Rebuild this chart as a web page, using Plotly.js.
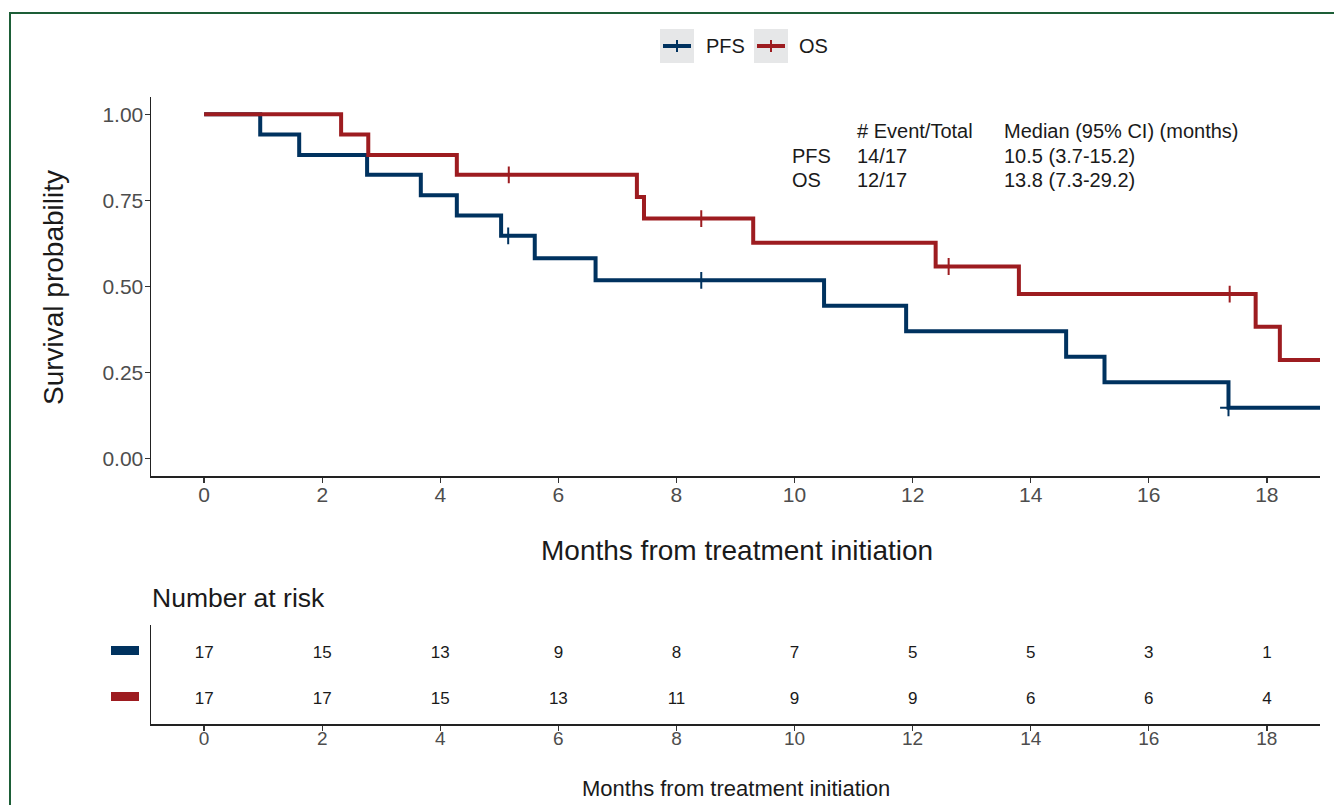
<!DOCTYPE html>
<html>
<head>
<meta charset="utf-8">
<script src="https://cdn.plot.ly/plotly-3.0.1.min.js"></script>
<style>html,body{margin:0;padding:0;background:#fff;}#chart{width:1334px;height:805px;}</style>
</head>
<body>
<div id="chart"></div>
<script>
// ---- data ----
const pfsTimes = [0, 0.95, 1.61, 2.76, 3.67, 4.28, 5.03, 5.60, 6.63, 10.50, 11.89, 14.60, 15.25, 17.35, 19.5];
const pfsSurv  = [1, 0.941, 0.882, 0.824, 0.765, 0.706, 0.647, 0.582, 0.518, 0.444, 0.370, 0.296, 0.222, 0.148, 0.148];
const pfsCensorTimes = [5.15, 8.42, 17.35];
const pfsCensorSurv  = [0.647, 0.518, 0.148];

const osTimes = [0, 2.32, 2.78, 4.28, 7.33, 7.45, 9.30, 12.39, 13.80, 17.81, 18.22, 19.5];
const osSurv  = [1, 0.941, 0.882, 0.824, 0.760, 0.697, 0.627, 0.558, 0.478, 0.383, 0.287, 0.287];
const osCensorTimes = [5.16, 8.42, 12.61, 17.37];
const osCensorSurv  = [0.824, 0.697, 0.558, 0.478];

const riskTimes = [0, 2, 4, 6, 8, 10, 12, 14, 16, 18];
const pfsRisk = [17, 15, 13, 9, 8, 7, 5, 5, 3, 1];
const osRisk  = [17, 17, 15, 13, 11, 9, 9, 6, 6, 4];

const survTicks = [0, 0.25, 0.5, 0.75, 1];
const seriesNames = ['PFS', 'OS'];
const tableHeader = ['# Event/Total', 'Median (95% CI) (months)'];
const eventsTotal = ['14/17', '12/17'];
const medianCI = ['10.5 (3.7-15.2)', '13.8 (7.3-29.2)'];

// ---- styling ----
const W = 1334, H = 805;
const BLUE = '#00325f', RED = '#9d1c20';
const FONT = 'Liberation Sans, Arial, sans-serif';
const TXT = '#1a1a1a';
const px = x => x / W;
const py = y => 1 - y / H;

const traces = [
  {x: pfsTimes, y: pfsSurv, xaxis: 'x', yaxis: 'y', mode: 'lines', line: {shape: 'hv', color: BLUE, width: 4}, showlegend: false, hoverinfo: 'skip'},
  {x: osTimes, y: osSurv, xaxis: 'x', yaxis: 'y', mode: 'lines', line: {shape: 'hv', color: RED, width: 4}, showlegend: false, hoverinfo: 'skip'},
  {x: pfsCensorTimes, y: pfsCensorSurv, xaxis: 'x', yaxis: 'y', mode: 'markers', marker: {symbol: 'cross-thin', size: 12, line: {color: BLUE, width: 2}}, showlegend: false},
  {x: osCensorTimes, y: osCensorSurv, xaxis: 'x', yaxis: 'y', mode: 'markers', marker: {symbol: 'cross-thin', size: 12, line: {color: RED, width: 2}}, showlegend: false},
  {x: riskTimes, y: riskTimes.map(() => 2), text: pfsRisk.map(String), xaxis: 'x2', yaxis: 'y2', mode: 'text', textfont: {family: FONT, size: 17, color: TXT}, showlegend: false},
  {x: riskTimes, y: riskTimes.map(() => 1), text: osRisk.map(String), xaxis: 'x2', yaxis: 'y2', mode: 'text', textfont: {family: FONT, size: 17, color: TXT}, showlegend: false}
];

const xDomain = [px(151), px(1320)];
const axisCommon = {
  showline: true, linecolor: '#222', linewidth: 1.5,
  ticks: 'outside', ticklen: 5, tickwidth: 1.3, tickcolor: '#333',
  showgrid: false, zeroline: false,
  tickfont: {family: FONT, size: 21, color: '#4d4d4d'}
};

const annotations = [];
const ann = (x, y, text, size, xanchor, extra) => annotations.push(Object.assign({
  xref: 'paper', yref: 'paper', x: px(x), y: py(y), text: text, showarrow: false,
  xanchor: xanchor, yanchor: 'middle', font: {family: FONT, size: size, color: TXT}
}, extra || {}));

// summary table
const rowsY = [131, 156, 180];
const colX = [790, 855, 1002];
ann(colX[1], rowsY[0], tableHeader[0], 20, 'left');
ann(colX[2], rowsY[0], tableHeader[1], 20, 'left');
seriesNames.forEach((n, i) => {
  [n, eventsTotal[i], medianCI[i]].forEach((t, j) => ann(colX[j], rowsY[i + 1], t, 20, 'left'));
});
// titles
ann(736.5, 550, 'Months from treatment initiation', 28, 'center');
ann(53, 288, 'Survival probability', 28, 'center', {textangle: -90});
ann(150, 598, 'Number at risk', 26.5, 'left');
ann(736, 788, 'Months from treatment initiation', 22, 'center');
// legend labels
ann(704, 46, seriesNames[0], 20, 'left');
ann(797, 46, seriesNames[1], 20, 'left');

const shapes = [
  // outer green frame
  {type: 'rect', xref: 'paper', yref: 'paper', x0: px(10), x1: px(1400), y0: py(900), y1: py(13), line: {color: '#1d5e37', width: 2}, fillcolor: 'rgba(0,0,0,0)', layer: 'below'},
  // legend key boxes
  {type: 'rect', xref: 'paper', yref: 'paper', x0: px(660), x1: px(694), y0: py(63), y1: py(29), fillcolor: '#e6e7e8', line: {width: 0}},
  {type: 'line', xref: 'paper', yref: 'paper', x0: px(663), x1: px(691), y0: py(46), y1: py(46), line: {color: BLUE, width: 4}},
  {type: 'line', xref: 'paper', yref: 'paper', x0: px(677), x1: px(677), y0: py(40), y1: py(52), line: {color: BLUE, width: 2}},
  {type: 'rect', xref: 'paper', yref: 'paper', x0: px(754), x1: px(788), y0: py(63), y1: py(29), fillcolor: '#e6e7e8', line: {width: 0}},
  {type: 'line', xref: 'paper', yref: 'paper', x0: px(757), x1: px(785), y0: py(46), y1: py(46), line: {color: RED, width: 4}},
  {type: 'line', xref: 'paper', yref: 'paper', x0: px(771), x1: px(771), y0: py(40), y1: py(52), line: {color: RED, width: 2}},
  // risk table strata keys
  {type: 'rect', xref: 'paper', yref: 'paper', x0: px(111), x1: px(139), y0: py(655), y1: py(646), fillcolor: BLUE, line: {width: 0}},
  {type: 'rect', xref: 'paper', yref: 'paper', x0: px(111), x1: px(139), y0: py(701), y1: py(692), fillcolor: RED, line: {width: 0}}
];

const layout = {
  width: W, height: H,
  margin: {l: 0, r: 0, t: 0, b: 0},
  paper_bgcolor: '#fff', plot_bgcolor: '#fff',
  showlegend: false,
  xaxis: Object.assign({}, axisCommon, {domain: xDomain, anchor: 'y', range: [-0.9, 18.9], tickvals: riskTimes, ticktext: riskTimes.map(String), ticklabelstandoff: -6}),
  yaxis: Object.assign({}, axisCommon, {domain: [py(476), py(97)], anchor: 'x', range: [-0.05, 1.05], tickvals: survTicks, tickformat: '.2f', ticklabelstandoff: -3}),
  xaxis2: Object.assign({}, axisCommon, {domain: xDomain, anchor: 'y2', range: [-0.9, 18.9], tickvals: riskTimes, ticktext: riskTimes.map(String), tickfont: {family: FONT, size: 19, color: '#4d4d4d'}, ticklabelstandoff: -8}),
  yaxis2: Object.assign({}, axisCommon, {domain: [py(724), py(625)], anchor: 'x2', range: [0.478, 2.63], showticklabels: false, ticks: ''}),
  annotations: annotations,
  shapes: shapes
};

Plotly.newPlot('chart', traces, layout, {staticPlot: true, displayModeBar: false});
</script>
</body>
</html>
